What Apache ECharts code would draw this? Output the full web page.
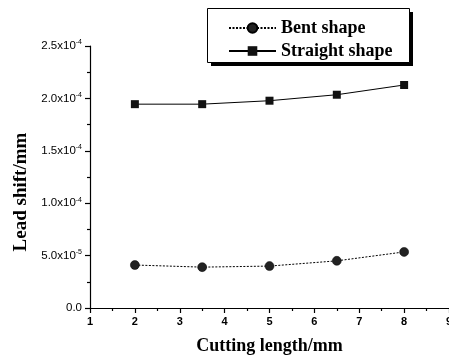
<!DOCTYPE html>
<html>
<head>
<meta charset="utf-8">
<script src="https://cdn.jsdelivr.net/npm/echarts@6/dist/echarts.min.js"></script>
<style>
html,body{margin:0;padding:0;background:#fff;}
#c{width:449px;height:358px;}
</style>
</head>
<body>
<div id="c"></div>
<script>
var cuttingLength = [2, 3.5, 5, 6.5, 8];
var bentShape = [0.41e-4, 0.39e-4, 0.40e-4, 0.45e-4, 0.535e-4];
var straightShape = [1.945e-4, 1.945e-4, 1.978e-4, 2.035e-4, 2.128e-4];
var yTickValues = [0, 0.5e-4, 1.0e-4, 1.5e-4, 2.0e-4, 2.5e-4];
var yTickMantissa = ['0.0', '5.0', '1.0', '1.5', '2.0', '2.5'];
var yTickExponent = ['', '-5', '-4', '-4', '-4', '-4'];

var chart = echarts.init(document.getElementById('c'), null, {renderer: 'canvas'});
function yLabel(v) {
  for (var i = 0; i < yTickValues.length; i++) {
    if (Math.abs(v - yTickValues[i]) < 1e-9) {
      if (!yTickExponent[i]) return '{m|' + yTickMantissa[i] + '}';
      return '{m|' + yTickMantissa[i] + 'x10}{e|' + yTickExponent[i] + '}';
    }
  }
  return '';
}
var serif = '"Liberation Serif","Times New Roman",serif';
var sans = '"Liberation Sans",Arial,sans-serif';
chart.setOption({
  animation: false,
  backgroundColor: '#fff',
  grid: {left: 90, right: 0, top: 46, bottom: 50, containLabel: false, outerBoundsMode: 'none'},
  graphic: [
    {type: 'rect', z: 0, shape: {x: 211, y: 12, width: 202, height: 54}, style: {fill: '#000'}},
    {type: 'rect', z: 1, shape: {x: 207.5, y: 8.5, width: 202, height: 54}, style: {fill: '#fff', stroke: '#000', lineWidth: 1}}
  ],
  legend: {
    orient: 'vertical',
    left: 228, top: 19,
    z: 10,
    padding: 0,
    itemWidth: 47, itemHeight: 12, itemGap: 5,
    textStyle: {fontFamily: serif, fontWeight: 'bold', fontSize: 18, color: '#000'},
    data: ['Bent shape', 'Straight shape']
  },
  xAxis: {
    type: 'value', min: 1, max: 9, interval: 1,
    name: 'Cutting length/mm', nameLocation: 'middle', nameGap: 29,
    nameTextStyle: {fontFamily: serif, fontWeight: 'bold', fontSize: 18, color: '#000'},
    axisLine: {show: true, onZero: false, lineStyle: {color: '#000', width: 1.2}},
    axisTick: {show: true, inside: false, length: 5, lineStyle: {color: '#000', width: 1.2}},
    minorTick: {show: true, splitNumber: 2, length: 3, lineStyle: {color: '#000', width: 1.2}},
    axisLabel: {fontFamily: sans, fontWeight: 'bold', fontSize: 11, color: '#000', margin: 8, showMaxLabel: true, showMinLabel: true},
    splitLine: {show: false}
  },
  yAxis: {
    type: 'value', min: 0, max: 2.5e-4, interval: 0.5e-4,
    name: 'Lead shift/mm', nameLocation: 'middle', nameGap: 58, nameRotate: 90,
    nameTextStyle: {fontFamily: serif, fontWeight: 'bold', fontSize: 19, color: '#000', padding: [0, 30, 0, 0]},
    axisLine: {show: true, lineStyle: {color: '#000', width: 1.2}},
    axisTick: {show: true, inside: false, length: 5, lineStyle: {color: '#000', width: 1.2}},
    minorTick: {show: true, splitNumber: 2, length: 3, lineStyle: {color: '#000', width: 1.2}},
    axisLabel: {
      margin: 8,
      formatter: yLabel,
      rich: {
        m: {fontFamily: sans, fontSize: 11.5, color: '#000'},
        e: {fontFamily: sans, fontSize: 7, color: '#000', verticalAlign: 'top', padding: [0, 0, 7, 0]}
      }
    },
    splitLine: {show: false}
  },
  series: [
    {
      name: 'Bent shape', type: 'line',
      data: cuttingLength.map(function (x, i) { return [x, bentShape[i]]; }),
      symbol: 'circle', symbolSize: 9,
      itemStyle: {color: '#222', borderColor: '#000', borderWidth: 0.5},
      lineStyle: {color: '#000', width: 1, type: [2, 1.5]}
    },
    {
      name: 'Straight shape', type: 'line',
      data: cuttingLength.map(function (x, i) { return [x, straightShape[i]]; }),
      symbol: 'rect', symbolSize: 8,
      itemStyle: {color: '#111'},
      lineStyle: {color: '#000', width: 1, type: 'solid'}
    }
  ]
});
</script>
</body>
</html>
